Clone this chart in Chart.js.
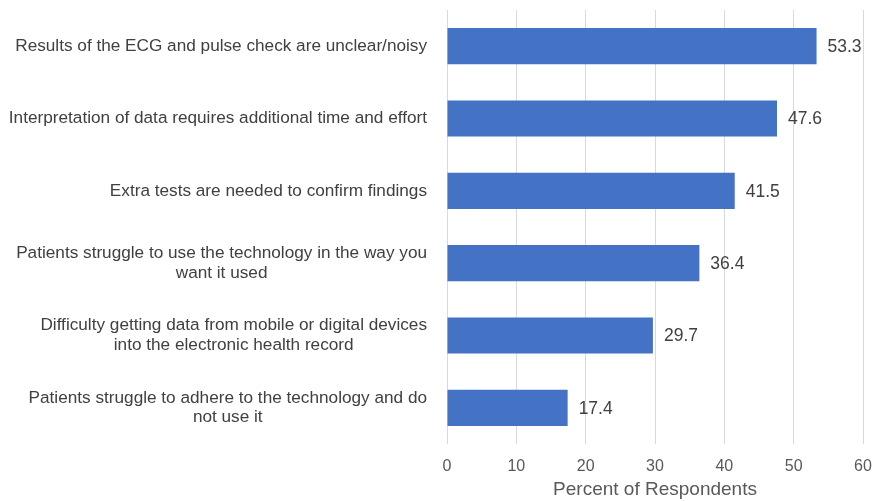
<!DOCTYPE html>
<html>
<head>
<meta charset="utf-8">
<script src="https://cdn.jsdelivr.net/npm/chart.js@4"></script>
<style>
  html, body { margin: 0; padding: 0; background: #fff; }
  #wrap { width: 874px; height: 501px; position: relative; }
</style>
</head>
<body>
<div id="wrap"><canvas id="barChart"></canvas></div>
<script>
// --- datos ---
const categories = [
    ['Results of the ECG and pulse check are unclear/noisy'],
    ['Interpretation of data requires additional time and effort'],
    ['Extra tests are needed to confirm findings'],
    ['Patients struggle to use the technology in the way you', 'want it used'],
    ['Difficulty getting data from mobile or digital devices', 'into the electronic health record'],
    ['Patients struggle to adhere to the technology and do', 'not use it']
];
const percentValues = [53.3, 47.6, 41.5, 36.4, 29.7, 17.4];
const xTicks = [0, 10, 20, 30, 40, 50, 60];
const xTitle = 'Percent of Respondents';

const FONT = 'Liberation Sans, Arial, sans-serif';
const TEXT = '#404040';

// etiquetas del eje Y, centradas por bloque y alineadas a la derecha
const categoryLabels = {
    id: 'categoryLabels',
    afterDraw(chart) {
        const ctx = chart.ctx;
        const yScale = chart.scales.y;
        const rightEdge = chart.chartArea.left - 20;
        const lineH = 19.5;
        ctx.save();
        ctx.font = '17.2px ' + FONT;
        ctx.fillStyle = TEXT;
        ctx.textAlign = 'center';
        ctx.textBaseline = 'middle';
        categories.forEach((lines, i) => {
            const y = yScale.getPixelForValue(i);
            const maxW = Math.max(...lines.map(l => ctx.measureText(l).width));
            const cx = rightEdge - maxW / 2;
            const y0 = y - (lines.length - 1) * lineH / 2;
            lines.forEach((l, j) => ctx.fillText(l, cx, y0 + j * lineH));
        });
        ctx.restore();
    }
};

// valores al final de cada barra
const valueLabels = {
    id: 'valueLabels',
    afterDatasetsDraw(chart) {
        const ctx = chart.ctx;
        const meta = chart.getDatasetMeta(0);
        ctx.save();
        ctx.font = '17.5px ' + FONT;
        ctx.fillStyle = TEXT;
        ctx.textAlign = 'left';
        ctx.textBaseline = 'middle';
        meta.data.forEach((bar, i) => {
            ctx.fillText(percentValues[i].toFixed(1), bar.x + 11, bar.y + 1);
        });
        ctx.restore();
    }
};

new Chart(document.getElementById('barChart'), {
    type: 'bar',
    data: {
        labels: categories.map(c => c.join(' ')),
        datasets: [{
            data: percentValues,
            backgroundColor: '#4472C4',
            borderWidth: 0,
            barPercentage: 0.5,
            categoryPercentage: 1.0
        }]
    },
    options: {
        indexAxis: 'y',
        responsive: true,
        maintainAspectRatio: false,
        animation: false,
        layout: { padding: { top: 10, right: 0, bottom: 0, left: 0 } },
        plugins: {
            legend: { display: false },
            tooltip: { enabled: false }
        },
        scales: {
            x: {
                min: 0,
                max: 60,
                afterBuildTicks: axis => { axis.ticks = xTicks.map(v => ({ value: v })); },
                afterFit: axis => {
                    axis.height = 57;
                    axis.paddingRight = 11;
                    axis.paddingLeft = 0;
                },
                grid: { color: '#d9d9d9', lineWidth: 1, drawTicks: false },
                border: { display: false },
                ticks: {
                    color: '#595959',
                    padding: 13,
                    font: { family: FONT, size: 16 }
                },
                title: {
                    display: true,
                    text: xTitle,
                    color: '#595959',
                    padding: { top: 5, bottom: 0 },
                    font: { family: FONT, size: 19 }
                }
            },
            y: {
                grid: { display: false },
                border: { display: false },
                ticks: { display: false },
                afterFit: axis => { axis.width = 447; }
            }
        }
    },
    plugins: [categoryLabels, valueLabels]
});
</script>
</body>
</html>
